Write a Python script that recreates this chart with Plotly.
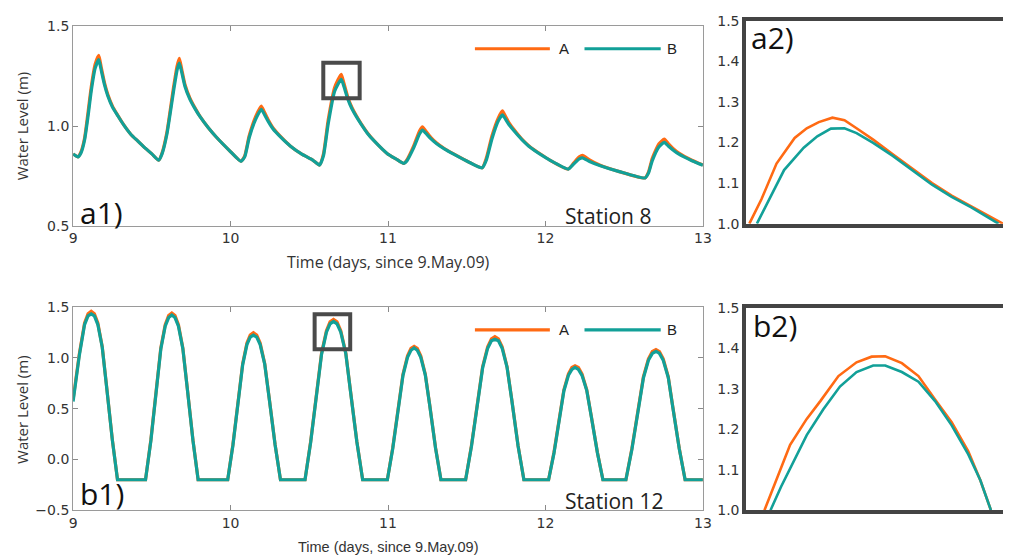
import plotly.graph_objects as go

# ---------------- data ----------------
# Station 8 (panel a1)
a1_time = [9.00, 9.03, 9.05, 9.073, 9.095, 9.115, 9.14, 9.163, 9.18, 9.20, 9.22, 9.25, 9.282, 9.32, 9.366, 9.41, 9.449, 9.50, 9.543,
           9.565, 9.596, 9.637, 9.66, 9.675, 9.69, 9.71, 9.742, 9.775, 9.805, 9.86, 9.909, 9.993, 10.066,
           10.09, 10.118, 10.16, 10.195, 10.215, 10.24, 10.27, 10.32, 10.379, 10.45, 10.524, 10.565,
           10.59, 10.62, 10.661, 10.703, 10.72, 10.745, 10.77, 10.80, 10.829, 10.87, 10.912, 10.996, 11.05, 11.10,
           11.12, 11.163, 11.20, 11.219, 11.24, 11.27, 11.309, 11.36, 11.414, 11.518, 11.598,
           11.625, 11.66, 11.70, 11.727, 11.745, 11.77, 11.80, 11.85, 11.905, 12.03, 12.145,
           12.18, 12.215, 12.235, 12.28, 12.344, 12.469, 12.632,
           12.655, 12.678, 12.72, 12.755, 12.78, 12.81, 12.845, 12.93, 13.0]
a1_A = [0.86, 0.845, 0.87, 0.94, 1.07, 1.195, 1.31, 1.355, 1.29, 1.215, 1.16, 1.10, 1.056, 1.008, 0.959, 0.925, 0.895, 0.86, 0.828,
        0.865, 0.97, 1.19, 1.30, 1.34, 1.285, 1.21, 1.14, 1.09, 1.05, 0.99, 0.945, 0.877, 0.823,
        0.85, 0.95, 1.048, 1.10, 1.07, 1.03, 0.99, 0.945, 0.90, 0.86, 0.828, 0.804,
        0.86, 1.03, 1.194, 1.26, 1.215, 1.145, 1.095, 1.05, 1.012, 0.965, 0.926, 0.861, 0.835, 0.812,
        0.83, 0.90, 0.975, 0.996, 0.975, 0.945, 0.915, 0.886, 0.861, 0.817, 0.79,
        0.84, 0.95, 1.04, 1.076, 1.05, 1.015, 0.983, 0.935, 0.894, 0.828, 0.784,
        0.815, 0.845, 0.853, 0.83, 0.804, 0.771, 0.739,
        0.77, 0.837, 0.91, 0.934, 0.912, 0.888, 0.866, 0.828, 0.804]
a1_B = [0.86, 0.845, 0.865, 0.93, 1.05, 1.175, 1.29, 1.333, 1.275, 1.205, 1.152, 1.095, 1.054, 1.007, 0.959, 0.925, 0.895, 0.86, 0.828,
        0.86, 0.96, 1.17, 1.28, 1.316, 1.27, 1.2, 1.134, 1.086, 1.048, 0.99, 0.945, 0.877, 0.823,
        0.845, 0.94, 1.035, 1.084, 1.058, 1.022, 0.985, 0.943, 0.90, 0.86, 0.828, 0.804,
        0.85, 1.01, 1.175, 1.235, 1.198, 1.135, 1.088, 1.046, 1.01, 0.963, 0.925, 0.861, 0.835, 0.812,
        0.825, 0.89, 0.96, 0.98, 0.964, 0.938, 0.911, 0.884, 0.86, 0.817, 0.79,
        0.83, 0.935, 1.025, 1.056, 1.036, 1.005, 0.976, 0.932, 0.892, 0.828, 0.784,
        0.81, 0.835, 0.84, 0.822, 0.802, 0.771, 0.739,
        0.765, 0.825, 0.895, 0.918, 0.9, 0.88, 0.86, 0.826, 0.803]

# Station 12 (panel b1)
b1_time = [9.000, 9.040, 9.073, 9.095, 9.115, 9.135, 9.157, 9.185, 9.212, 9.249, 9.282, 9.460,
           9.494, 9.530, 9.557, 9.585, 9.607, 9.627, 9.647, 9.669, 9.697, 9.724, 9.761, 9.794, 9.982,
           10.015, 10.050, 10.077, 10.104, 10.125, 10.145, 10.166, 10.188, 10.217, 10.245, 10.283, 10.317, 10.473,
           10.509, 10.549, 10.578, 10.609, 10.632, 10.654, 10.676, 10.700, 10.732, 10.761, 10.802, 10.839, 10.996,
           11.030, 11.067, 11.095, 11.124, 11.146, 11.166, 11.186, 11.208, 11.237, 11.265, 11.302, 11.336, 11.493,
           11.530, 11.571, 11.601, 11.633, 11.657, 11.679, 11.701, 11.725, 11.756, 11.786, 11.826, 11.863, 12.020,
           12.054, 12.091, 12.117, 12.146, 12.168, 12.188, 12.209, 12.232, 12.262, 12.291, 12.330, 12.365, 12.511,
           12.549, 12.591, 12.622, 12.654, 12.679, 12.702, 12.724, 12.748, 12.780, 12.809, 12.850, 12.887, 13.000]
b1_A = [0.59, 1.045, 1.344, 1.435, 1.46, 1.435, 1.344, 1.111, 0.730, 0.198, -0.2, -0.2,
        0.194, 0.72, 1.098, 1.328, 1.418, 1.443, 1.418, 1.328, 1.098, 0.72, 0.194, -0.2, -0.2,
        0.148, 0.611, 0.944, 1.147, 1.226, 1.248, 1.226, 1.147, 0.944, 0.611, 0.148, -0.2, -0.2,
        0.179, 0.685, 1.048, 1.269, 1.356, 1.38, 1.356, 1.269, 1.048, 0.685, 0.179, -0.2, -0.2,
        0.115, 0.536, 0.838, 1.022, 1.094, 1.114, 1.094, 1.022, 0.838, 0.536, 0.115, -0.2, -0.2,
        0.138, 0.590, 0.914, 1.111, 1.189, 1.21, 1.189, 1.111, 0.914, 0.590, 0.138, -0.2, -0.2,
        0.070, 0.429, 0.687, 0.844, 0.906, 0.923, 0.906, 0.844, 0.687, 0.429, 0.070, -0.2, -0.2,
        0.108, 0.518, 0.813, 0.992, 1.063, 1.082, 1.063, 0.992, 0.813, 0.518, 0.108, -0.2, -0.2]
b1_B = [0.57, 1.03, 1.329, 1.415, 1.435, 1.415, 1.329, 1.105, 0.725, 0.193, -0.2, -0.2,
        0.184, 0.705, 1.086, 1.313, 1.398, 1.423, 1.398, 1.313, 1.092, 0.715, 0.189, -0.2, -0.2,
        0.138, 0.596, 0.932, 1.132, 1.206, 1.225, 1.206, 1.132, 0.938, 0.606, 0.143, -0.2, -0.2,
        0.169, 0.67, 1.036, 1.254, 1.336, 1.36, 1.336, 1.254, 1.042, 0.68, 0.174, -0.2, -0.2,
        0.105, 0.521, 0.826, 1.007, 1.076, 1.098, 1.076, 1.007, 0.832, 0.531, 0.11, -0.2, -0.2,
        0.128, 0.575, 0.902, 1.096, 1.169, 1.185, 1.169, 1.096, 0.908, 0.585, 0.133, -0.2, -0.2,
        0.06, 0.414, 0.675, 0.829, 0.888, 0.907, 0.888, 0.829, 0.681, 0.424, 0.065, -0.2, -0.2,
        0.098, 0.503, 0.801, 0.977, 1.045, 1.066, 1.045, 0.977, 0.807, 0.513, 0.103, -0.2, -0.2]

# Zoomed peak, Station 8 (panel a2)
a2_time_A = [10.662, 10.670, 10.680, 10.692, 10.700, 10.708, 10.717, 10.725, 10.733, 10.744, 10.757, 10.770, 10.783, 10.796, 10.809, 10.822, 10.830]
a2_A = [1.0, 1.06, 1.148, 1.211, 1.235, 1.25, 1.261, 1.255, 1.235, 1.207, 1.171, 1.136, 1.10, 1.069, 1.042, 1.016, 1.0]
a2_time_B = [10.667, 10.674, 10.685, 10.698, 10.707, 10.716, 10.725, 10.733, 10.744, 10.757, 10.770, 10.783, 10.796, 10.809, 10.827]
a2_B = [1.0, 1.052, 1.132, 1.187, 1.215, 1.234, 1.235, 1.223, 1.199, 1.167, 1.131, 1.096, 1.066, 1.04, 1.0]

# Zoomed peak, Station 12 (panel b2)
b2_time_A = [10.578, 10.585, 10.595, 10.606, 10.615, 10.627, 10.639, 10.649, 10.658, 10.669, 10.680, 10.691, 10.702, 10.713, 10.721, 10.728]
b2_A = [1.0, 1.066, 1.162, 1.226, 1.27, 1.332, 1.366, 1.38, 1.381, 1.364, 1.332, 1.274, 1.218, 1.146, 1.074, 1.0]
b2_time_B = [10.582, 10.589, 10.606, 10.617, 10.628, 10.639, 10.650, 10.658, 10.669, 10.680, 10.691, 10.702, 10.713, 10.721, 10.728]
b2_B = [1.0, 1.058, 1.186, 1.25, 1.306, 1.342, 1.358, 1.358, 1.342, 1.318, 1.27, 1.21, 1.138, 1.074, 1.0]

series_names = ["A", "B"]
a1_ticks = [0.5, 1.0, 1.5]
b1_ticks = [-0.5, 0.0, 0.5, 1.0, 1.5]
inset_ticks = [1.0, 1.1, 1.2, 1.3, 1.4, 1.5]
x_ticks = [9, 10, 11, 12, 13]

# zoom windows marked in the main panels
a1_box = [10.589, 10.820, 1.139, 1.318]
b1_box = [10.534, 10.760, 1.086, 1.430]

# ---------------- style ----------------
ORANGE = "#FF6A13"
TEAL = "#12A098"
W, H = 1012, 560


def fx(p):
    return p / W


def fy(p):
    return 1 - p / H


fig = go.Figure()

for xa, ya, t, A, B, shape in [
    ("x", "y", a1_time, a1_A, a1_B, "spline"),
    ("x2", "y2", b1_time, b1_A, b1_B, "linear"),
]:
    fig.add_trace(go.Scatter(x=t, y=A, mode="lines", name=series_names[0], xaxis=xa, yaxis=ya,
                             line=dict(color=ORANGE, width=3.2, shape=shape, smoothing=0.5),
                             showlegend=False))
    fig.add_trace(go.Scatter(x=t, y=B, mode="lines", name=series_names[1], xaxis=xa, yaxis=ya,
                             line=dict(color=TEAL, width=3.2, shape=shape, smoothing=0.5),
                             showlegend=False))

for xa, ya, tA, A, tB, B in [
    ("x3", "y3", a2_time_A, a2_A, a2_time_B, a2_B),
    ("x4", "y4", b2_time_A, b2_A, b2_time_B, b2_B),
]:
    fig.add_trace(go.Scatter(x=tA, y=A, mode="lines", name=series_names[0], xaxis=xa, yaxis=ya,
                             line=dict(color=ORANGE, width=2.6), showlegend=False))
    fig.add_trace(go.Scatter(x=tB, y=B, mode="lines", name=series_names[1], xaxis=xa, yaxis=ya,
                             line=dict(color=TEAL, width=2.6), showlegend=False))

tickfont = dict(family="DejaVu Sans", size=14, color="#333333")
main_x = dict(range=[9, 13], tickvals=x_ticks, ticks="inside", ticklen=5, tickcolor="#8a8a8a",
              showline=True, linecolor="#9a9a9a", linewidth=1, mirror="allticks",
              showgrid=False, zeroline=False, tickfont=tickfont)
main_y = dict(ticks="inside", ticklen=5, tickcolor="#8a8a8a", tickformat=".1f",
              showline=True, linecolor="#9a9a9a", linewidth=1, mirror="allticks",
              showgrid=False, zeroline=False, tickfont=tickfont)
inset_x = dict(showticklabels=False, ticks="", showline=True, linecolor="#444444", linewidth=4,
               mirror=True, showgrid=False, zeroline=False)
inset_y = dict(range=[1.0, 1.5], tickvals=inset_ticks, tickformat=".1f", ticks="", showline=True,
               linecolor="#444444", linewidth=4, mirror=False, showgrid=False, zeroline=False,
               tickfont=tickfont)

fig.update_layout(
    width=W, height=H, margin=dict(l=0, r=0, t=0, b=0),
    paper_bgcolor="white", plot_bgcolor="white",
    xaxis=dict(domain=[fx(70), fx(708)], anchor="y", **main_x),
    yaxis=dict(domain=[fy(224), fy(19)], anchor="x", range=[0.5, 1.5], tickvals=a1_ticks, **main_y),
    xaxis2=dict(domain=[fx(70), fx(708)], anchor="y2", **main_x),
    yaxis2=dict(domain=[fy(517), fy(308)], anchor="x2", range=[-0.5, 1.5], tickvals=b1_ticks, **main_y),
    xaxis3=dict(domain=[fx(752), 1.0], anchor="y3", range=[10.660, 10.830], **inset_x),
    yaxis3=dict(domain=[fy(222), fy(13)], anchor="x3", **inset_y),
    xaxis4=dict(domain=[fx(752), 1.0], anchor="y4", range=[10.566, 10.736], **inset_x),
    yaxis4=dict(domain=[fy(517), fy(309)], anchor="x4", **inset_y),
    showlegend=False,
)

shapes = []
for (xa, ya, box) in [("x", "y", a1_box), ("x2", "y2", b1_box)]:
    shapes.append(dict(type="rect", xref=xa, yref=ya, x0=box[0], x1=box[1], y0=box[2], y1=box[3],
                       line=dict(color="#4a4a4a", width=4)))

annotations = []
# legends drawn inside main panels
for xa, ya in [("x", "y"), ("x2", "y2")]:
    ly = 0.888
    for (x0, x1, col, lx, name) in [(0.638, 0.757, ORANGE, 0.779, series_names[0]),
                                    (0.812, 0.933, TEAL, 0.951, series_names[1])]:
        shapes.append(dict(type="line", xref=xa + " domain", yref=ya + " domain",
                           x0=x0, x1=x1, y0=ly, y1=ly, line=dict(color=col, width=3.2)))
        annotations.append(dict(text=name, xref=xa + " domain", yref=ya + " domain", x=lx, y=ly,
                                showarrow=False, xanchor="center", yanchor="middle",
                                font=dict(family="Liberation Sans", size=15, color="#222222")))

fig.update_layout(shapes=shapes)


def note(text, x, y, size, family="Open Sans", color="#222222", angle=0, xanchor="center"):
    annotations.append(dict(text=text, xref="paper", yref="paper", x=fx(x), y=fy(y), showarrow=False,
                            xanchor=xanchor, yanchor="middle", textangle=angle,
                            font=dict(family=family, size=size, color=color)))


note("Water Level (m)", 18, 121, 15, color="#333333", angle=-90)
note("Water Level (m)", 18, 413, 15, color="#333333", angle=-90)
note("Time (days, since 9.May.09)", 389, 261, 16, color="#333333")
note("Time (days, since 9.May.09)", 389, 555, 14.5, family="Liberation Sans", color="#333333")
note("a1)", 99, 211, 30, color="#111111")
note("b1)", 99, 500, 30, color="#111111")
note("a2)", 778, 30, 30, color="#111111")
note("b2)", 781, 327, 30, color="#111111")
note("Station 8", 612, 214, 21, color="#222222")
note("Station 12", 618, 508, 21, color="#222222")

fig.update_layout(annotations=annotations)

fig.write_html("out.html")
